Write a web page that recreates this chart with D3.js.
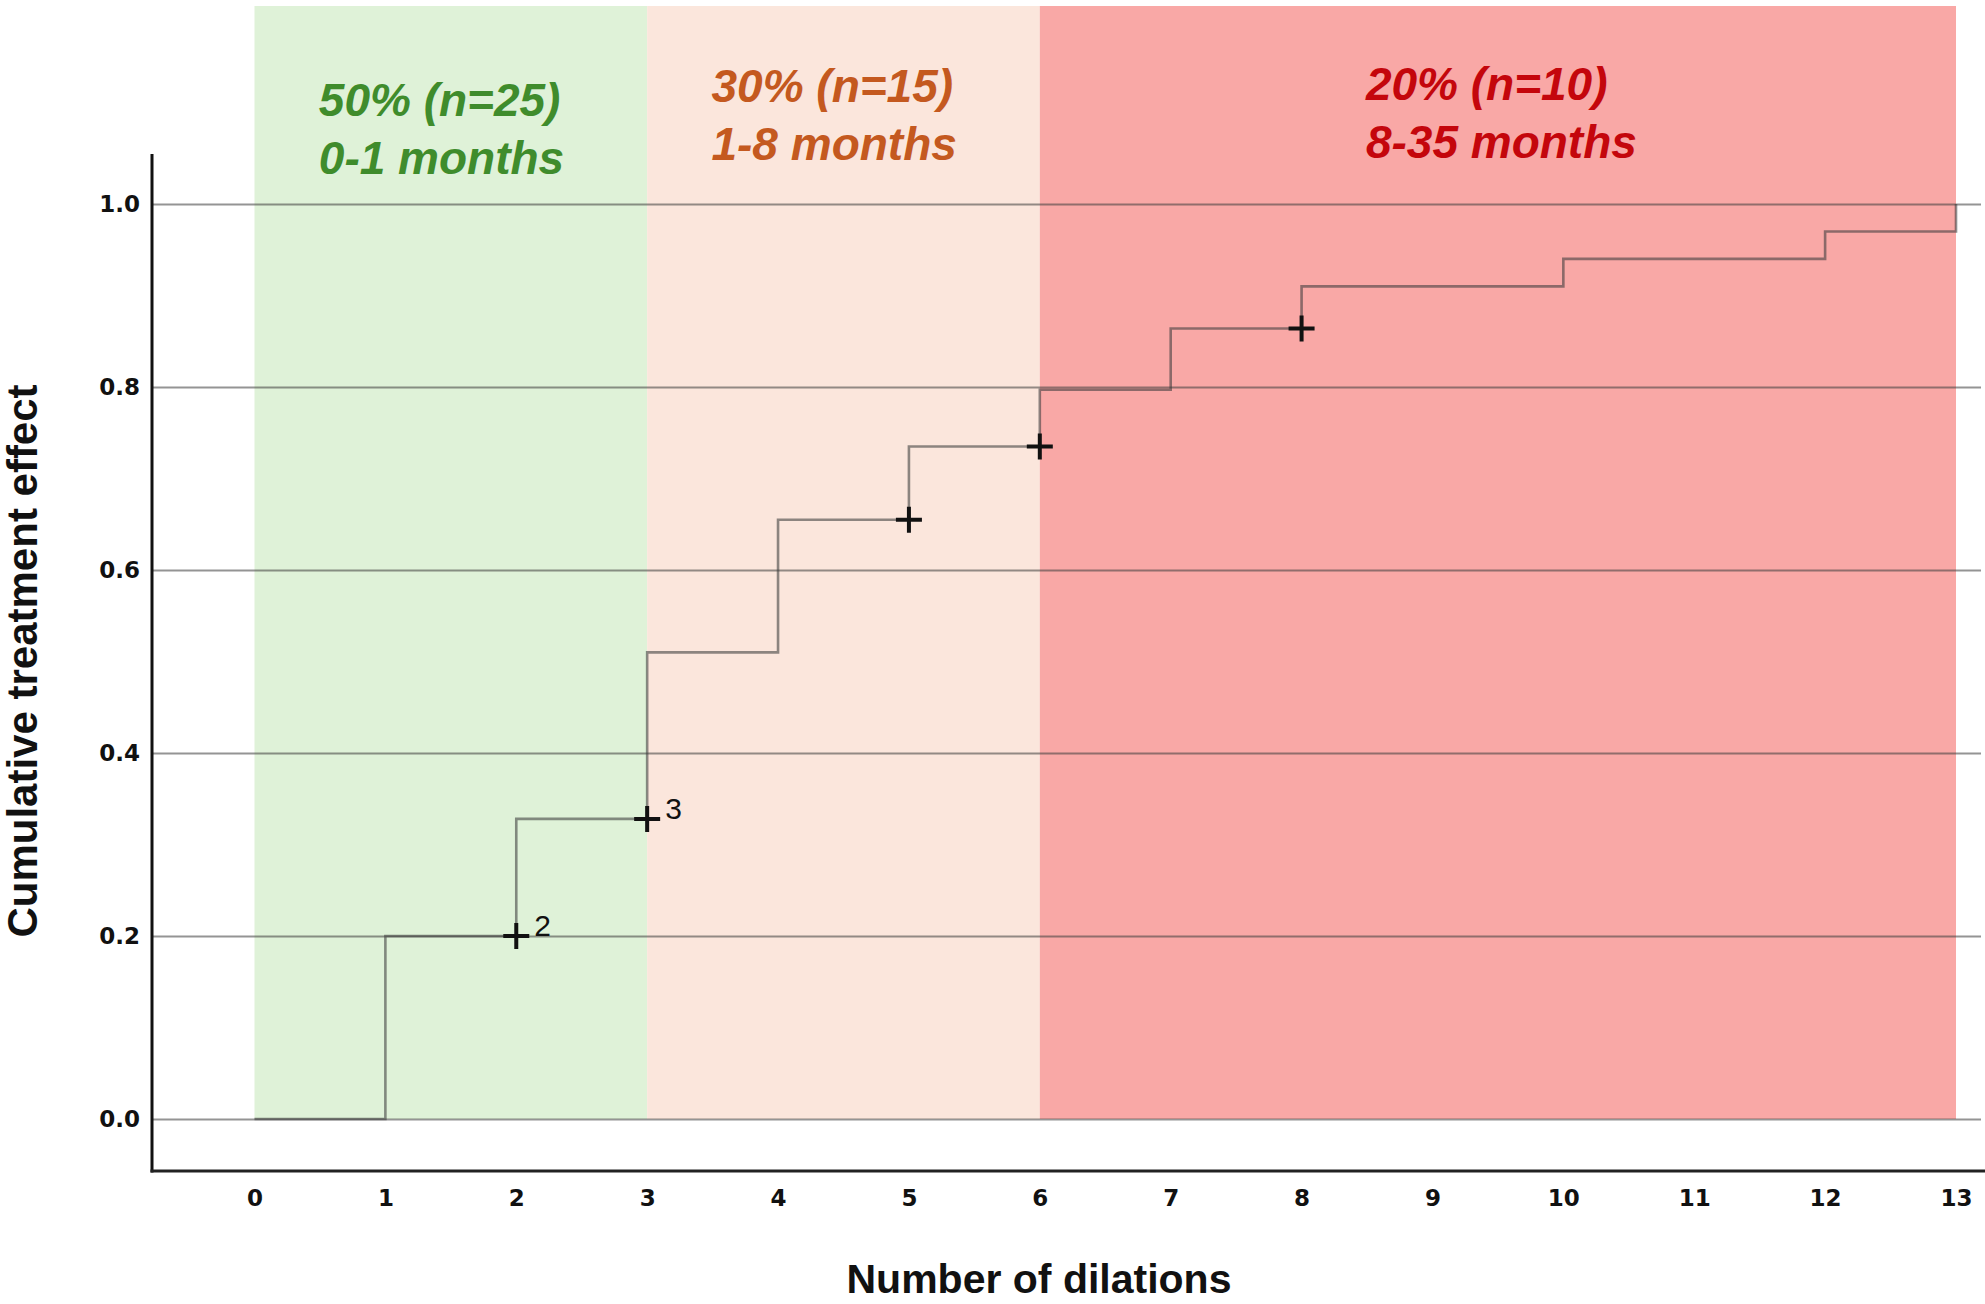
<!DOCTYPE html>
<html>
<head>
<meta charset="utf-8">
<script src="https://cdn.jsdelivr.net/npm/d3@7"></script>
<style>
  body { margin: 0; background: #fff; }
  svg { display: block; }
</style>
</head>
<body>
<div id="chart"></div>
<script>
// step data: value reached at each number of dilations
const dilations = [0, 1, 2, 3, 4, 5, 6, 7, 8, 10, 12, 13];
const effect = [0, 0.2, 0.328, 0.51, 0.655, 0.735, 0.797, 0.864, 0.91, 0.94, 0.97, 1.0];

// censored observations (+)
const censorX = [2, 3, 5, 6, 8];
const censorY = [0.2, 0.328, 0.655, 0.735, 0.864];
const censorLabel = ["2", "3", "", "", ""];

// shaded periods
const bandStart = [0, 3, 6];
const bandEnd = [3, 6, 13];
const bandLine1 = ["50% (n=25)", "30% (n=15)", "20% (n=10)"];
const bandLine2 = ["0-1 months", "1-8 months", "8-35 months"];

const xTicks = d3.range(0, 14);
const yTicks = [0, 0.2, 0.4, 0.6, 0.8, 1.0];

(function() {
    const W = 1985, H = 1304;
    const axisX = 152, axisY = 1171;

    const bandFill = ["#dff2d8", "#fbe6dc", "#f9a8a6"];
    const bandText = ["#3f8c2c", "#c4591f", "#c4060c"];

    const svg = d3.select("#chart")
        .append("svg")
        .attr("width", W)
        .attr("height", H);

    const x = d3.scaleLinear().domain([0, 13]).range([254.5, 1956]);
    const y = d3.scaleLinear().domain([0, 1]).range([1119, 204]);

    // background periods
    svg.append("g").selectAll("rect")
        .data(bandStart)
        .enter()
        .append("rect")
        .attr("x", (d, i) => x(d))
        .attr("y", 6)
        .attr("width", (d, i) => x(bandEnd[i]) - x(d))
        .attr("height", (d, i) => y(0) - 6)
        .attr("fill", (d, i) => bandFill[i]);

    // gridlines
    svg.append("g")
        .attr("transform", `translate(${axisX},0)`)
        .call(d3.axisLeft(y)
            .tickValues(yTicks)
            .tickSize(-(1981 - axisX))
            .tickFormat(""))
        .call(g => g.select(".domain").remove())
        .selectAll("line")
        .attr("stroke", "rgba(60,60,60,0.55)")
        .attr("stroke-width", 2.2);

    // step curve
    const pts = dilations.map((d, i) => [d, effect[i]]);
    svg.append("path")
        .datum(pts)
        .attr("fill", "none")
        .attr("stroke", "rgba(60,60,60,0.58)")
        .attr("stroke-width", 2.6)
        .attr("d", d3.line()
            .x(d => x(d[0]))
            .y(d => y(d[1]))
            .curve(d3.curveStepAfter));

    // censor marks
    const cens = svg.append("g").selectAll("g")
        .data(censorX)
        .enter()
        .append("g")
        .attr("transform", (d, i) => `translate(${x(d)},${y(censorY[i])})`);

    cens.append("path")
        .attr("d", "M-13,0H13M0,-13V13")
        .attr("stroke", "#111")
        .attr("stroke-width", 4);

    cens.append("text")
        .attr("x", 18)
        .attr("y", 0)
        .style("font-family", "'Liberation Sans', Arial, sans-serif")
        .style("font-size", "30px")
        .style("fill", "#111")
        .text((d, i) => censorLabel[i]);

    // period labels
    const base1 = [116, 102, 100];
    bandStart.forEach((s, i) => {
        const cx = x((s + bandEnd[i]) / 2) - 132;
        [bandLine1[i], bandLine2[i]].forEach((t, j) => {
            svg.append("text")
                .attr("x", cx)
                .attr("y", base1[i] + j * 58)
                .style("font-family", "'Liberation Sans', Arial, sans-serif")
                .style("font-size", "46px")
                .style("font-weight", "bold")
                .style("font-style", "italic")
                .style("fill", bandText[i])
                .text(t);
        });
    });

    // axes
    const xAxis = svg.append("g")
        .attr("transform", `translate(0,${axisY})`)
        .call(d3.axisBottom(x)
            .tickValues(xTicks)
            .tickSize(0)
            .tickPadding(19));
    xAxis.select(".domain").remove();
    xAxis.selectAll("text")
        .style("font-family", "'DejaVu Sans', Verdana, sans-serif")
        .style("font-weight", "bold")
        .style("font-size", "23px")
        .style("fill", "#111");

    const yAxis = svg.append("g")
        .attr("transform", `translate(${axisX},0)`)
        .call(d3.axisLeft(y)
            .tickValues(yTicks)
            .tickFormat(d3.format(".1f"))
            .tickSize(0)
            .tickPadding(12));
    yAxis.select(".domain").remove();
    yAxis.selectAll("text")
        .style("font-family", "'DejaVu Sans', Verdana, sans-serif")
        .style("font-weight", "bold")
        .style("font-size", "23px")
        .style("fill", "#111");

    svg.append("line")
        .attr("x1", axisX).attr("x2", axisX)
        .attr("y1", 154).attr("y2", axisY + 1.5)
        .attr("stroke", "#111")
        .attr("stroke-width", 3);

    svg.append("line")
        .attr("x1", axisX - 1.5).attr("x2", W)
        .attr("y1", axisY).attr("y2", axisY)
        .attr("stroke", "#222")
        .attr("stroke-width", 3);

    // axis titles
    svg.append("text")
        .attr("text-anchor", "middle")
        .attr("x", 1039)
        .attr("y", 1293)
        .style("font-family", "'Liberation Sans', Arial, sans-serif")
        .style("font-size", "41px")
        .style("font-weight", "bold")
        .style("fill", "#111")
        .text("Number of dilations");

    svg.append("text")
        .attr("text-anchor", "middle")
        .attr("transform", "rotate(-90)")
        .attr("x", -661)
        .attr("y", 37)
        .style("font-family", "'Liberation Sans', Arial, sans-serif")
        .style("font-size", "42px")
        .style("font-weight", "bold")
        .style("fill", "#111")
        .text("Cumulative treatment effect");
})();
</script>
</body>
</html>
